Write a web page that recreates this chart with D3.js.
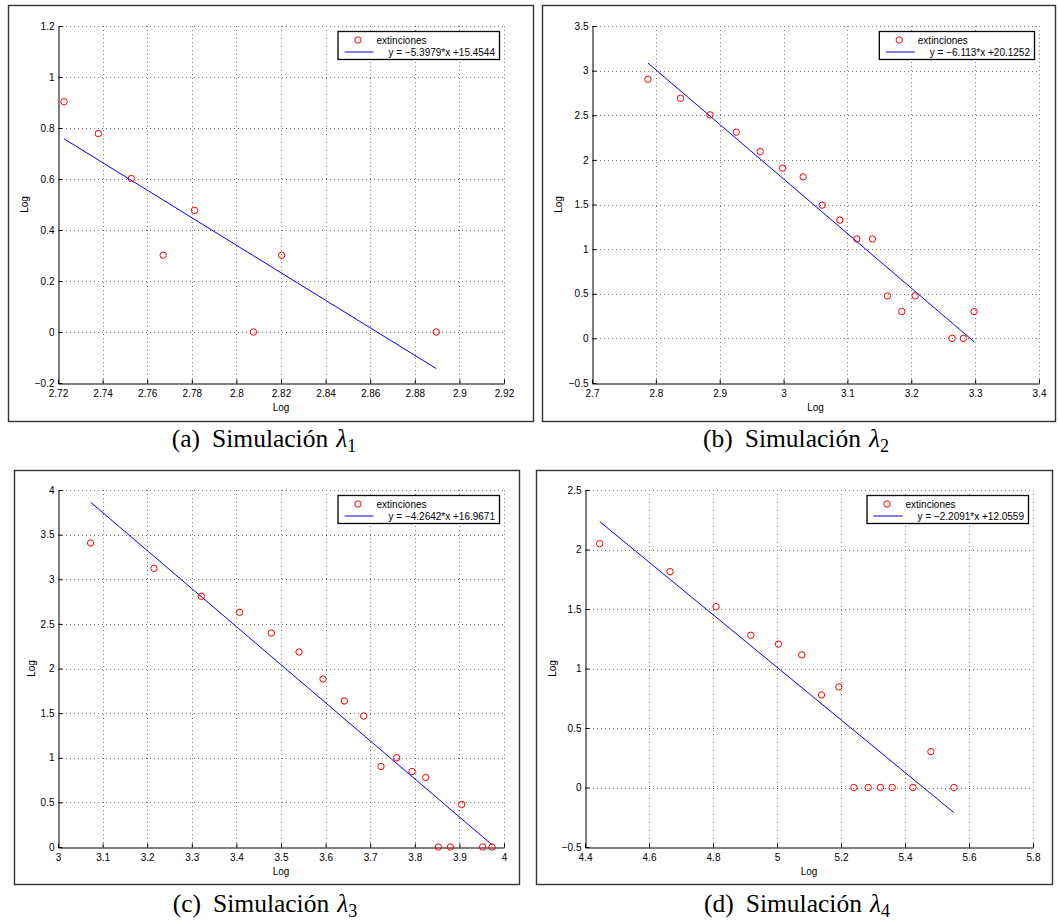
<!DOCTYPE html>
<html>
<head>
<meta charset="utf-8">
<script src="https://cdn.jsdelivr.net/npm/d3@7/dist/d3.min.js"></script>
<style>
  html, body { margin: 0; padding: 0; background: #fff; }
  svg { display: block; }
  .tick-label, .axis-label, .legend-text { font-family: "Liberation Sans", Arial, Helvetica, sans-serif; font-size: 10px; fill: #000; }
  .caption { font-family: "Liberation Serif", "Times New Roman", Times, serif; font-size: 25.5px; fill: #000; }
</style>
</head>
<body>
<svg id="chart" width="1058" height="921"></svg>
<script>
// ---------- DATA ----------
const seriesName = "extinciones";
const axisLabelX = "Log";
const axisLabelY = "Log";

// (a) Simulación λ1
const xA = [2.7227, 2.7381, 2.7529, 2.7672, 2.7812, 2.8076, 2.8203, 2.8896];
const yA = [0.903, 0.778, 0.602, 0.301, 0.477, 0, 0.301, 0];
const fitA = [-5.3979, 15.4544];
const fitLabelA = "y = \u22125.3979*x +15.4544";
const xTicksA = [2.72, 2.74, 2.76, 2.78, 2.8, 2.82, 2.84, 2.86, 2.88, 2.9, 2.92];
const xTickLabelsA = ["2.72", "2.74", "2.76", "2.78", "2.8", "2.82", "2.84", "2.86", "2.88", "2.9", "2.92"];
const yTicksA = [-0.2, 0, 0.2, 0.4, 0.6, 0.8, 1, 1.2];
const yTickLabelsA = ["\u22120.2", "0", "0.2", "0.4", "0.6", "0.8", "1", "1.2"];

// (b) Simulación λ2
const xB = [2.7876, 2.8388, 2.8847, 2.9259, 2.9634, 2.9984, 3.0307, 3.0605, 3.0881, 3.1147, 3.1392, 3.1627, 3.1851, 3.2060, 3.2639, 3.2816, 3.2983];
const yB = [2.903, 2.690, 2.504, 2.310, 2.093, 1.907, 1.810, 1.493, 1.325, 1.114, 1.114, 0.477, 0.301, 0.477, 0, 0, 0.301];
const fitB = [-6.113, 20.1252];
const fitLabelB = "y = \u22126.113*x +20.1252";
const xTicksB = [2.7, 2.8, 2.9, 3, 3.1, 3.2, 3.3, 3.4];
const xTickLabelsB = ["2.7", "2.8", "2.9", "3", "3.1", "3.2", "3.3", "3.4"];
const yTicksB = [-0.5, 0, 0.5, 1, 1.5, 2, 2.5, 3, 3.5];
const yTickLabelsB = ["\u22120.5", "0", "0.5", "1", "1.5", "2", "2.5", "3", "3.5"];

// (c) Simulación λ3
const xC = [3.0732, 3.2152, 3.3214, 3.4073, 3.4783, 3.5404, 3.5942, 3.6420, 3.6854, 3.7242, 3.7593, 3.7937, 3.8244, 3.8528, 3.8797, 3.9051, 3.9522, 3.9731];
const yC = [3.406, 3.122, 2.809, 2.629, 2.398, 2.185, 1.882, 1.636, 1.468, 0.903, 1.0, 0.845, 0.778, 0, 0, 0.477, 0, 0];
const fitC = [-4.2642, 16.9671];
const fitLabelC = "y = \u22124.2642*x +16.9671";
const xTicksC = [3, 3.1, 3.2, 3.3, 3.4, 3.5, 3.6, 3.7, 3.8, 3.9, 4];
const xTickLabelsC = ["3", "3.1", "3.2", "3.3", "3.4", "3.5", "3.6", "3.7", "3.8", "3.9", "4"];
const yTicksC = [0, 0.5, 1, 1.5, 2, 2.5, 3, 3.5, 4];
const yTickLabelsC = ["0", "0.5", "1", "1.5", "2", "2.5", "3", "3.5", "4"];

// (d) Simulación λ4
const xD = [4.4459, 4.6658, 4.8097, 4.9181, 5.0046, 5.0776, 5.1391, 5.1933, 5.2402, 5.2851, 5.3236, 5.3601, 5.4247, 5.4810, 5.5529];
const yD = [2.049, 1.814, 1.519, 1.279, 1.204, 1.114, 0.778, 0.845, 0, 0, 0, 0, 0, 0.301, 0];
const fitD = [-2.2091, 12.0559];
const fitLabelD = "y = \u22122.2091*x +12.0559";
const xTicksD = [4.4, 4.6, 4.8, 5, 5.2, 5.4, 5.6, 5.8];
const xTickLabelsD = ["4.4", "4.6", "4.8", "5", "5.2", "5.4", "5.6", "5.8"];
const yTicksD = [-0.5, 0, 0.5, 1, 1.5, 2, 2.5];
const yTickLabelsD = ["\u22120.5", "0", "0.5", "1", "1.5", "2", "2.5"];

const captionLetters = ["(a)", "(b)", "(c)", "(d)"];
const captionWord = "Simulación";
const captionSubs = ["1", "2", "3", "4"];

// ---------- LAYOUT ----------
const svg = d3.select("#chart");

const panels = [
  { x: xA, y: yA, fit: fitA, fitLabel: fitLabelA, xt: xTicksA, xtl: xTickLabelsA, yt: yTicksA, ytl: yTickLabelsA,
    frame: [8, 5, 533, 421], plot: [58, 26, 504, 383], ylabX: 25, cap: [264, 447] },
  { x: xB, y: yB, fit: fitB, fitLabel: fitLabelB, xt: xTicksB, xtl: xTickLabelsB, yt: yTicksB, ytl: yTickLabelsB,
    frame: [542, 5, 1055, 421], plot: [592, 26, 1039, 383], ylabX: 559, cap: [796, 447] },
  { x: xC, y: yC, fit: fitC, fitLabel: fitLabelC, xt: xTicksC, xtl: xTickLabelsC, yt: yTicksC, ytl: yTickLabelsC,
    frame: [14, 470, 519, 884], plot: [58, 490, 504, 847], ylabX: 32, cap: [265, 912] },
  { x: xD, y: yD, fit: fitD, fitLabel: fitLabelD, xt: xTicksD, xtl: xTickLabelsD, yt: yTicksD, ytl: yTickLabelsD,
    frame: [536, 470, 1052, 884], plot: [585, 490, 1033, 847], ylabX: 553, cap: [797, 912] }
];

panels.forEach((p, i) => {
  const [fx0, fy0, fx1, fy1] = p.frame;
  const [px0, py0, px1, py1] = p.plot;
  const g = svg.append("g");

  // outer frame
  g.append("rect").attr("x", fx0 + 0.5).attr("y", fy0 + 0.5)
    .attr("width", fx1 - fx0).attr("height", fy1 - fy0)
    .attr("fill", "#fff").attr("stroke", "#333").attr("stroke-width", 1.4);

  const xs = d3.scaleLinear().domain(d3.extent(p.xt)).range([px0, px1]);
  const ys = d3.scaleLinear().domain(d3.extent(p.yt)).range([py1, py0]);

  // grid (dotted)
  const grid = g.append("g").attr("stroke", "#777").attr("stroke-width", 1).attr("stroke-dasharray", "1,3");
  grid.selectAll("line.vx").data(p.xt.slice(1)).enter().append("line")
    .attr("x1", d => Math.round(xs(d)) + 0.5).attr("x2", d => Math.round(xs(d)) + 0.5)
    .attr("y1", py1).attr("y2", py0);
  grid.selectAll("line.hy").data(p.yt.slice(1)).enter().append("line")
    .attr("y1", d => Math.round(ys(d)) + 0.5).attr("y2", d => Math.round(ys(d)) + 0.5)
    .attr("x1", px0).attr("x2", px1);

  // axes (box off: left & bottom), inward ticks
  const axX = d3.axisBottom(xs).tickValues(p.xt).tickSizeInner(-4).tickSizeOuter(0).tickFormat((d, k) => p.xtl[k]);
  const axY = d3.axisLeft(ys).tickValues(p.yt).tickSizeInner(-4).tickSizeOuter(0).tickFormat((d, k) => p.ytl[k]);
  const gx = g.append("g").attr("transform", `translate(0,${py1 + 0.5})`).call(axX);
  const gy = g.append("g").attr("transform", `translate(${px0 + 0.5},0)`).call(axY);
  [gx, gy].forEach(a => {
    a.select(".domain").attr("stroke", "#000").attr("stroke-width", 1);
    a.selectAll(".tick line").attr("stroke", "#000");
    a.selectAll(".tick text").attr("class", "tick-label").attr("font-family", null).attr("font-size", null);
    a.attr("font-family", null).attr("font-size", null);
  });
  gx.selectAll(".tick text").attr("y", 6).attr("dy", "0.71em");
  gy.selectAll(".tick text").attr("x", -4).attr("dy", "0.32em");

  // axis labels
  g.append("text").attr("class", "axis-label").attr("x", (px0 + px1) / 2).attr("y", py1 + 25)
    .attr("text-anchor", "middle").attr("dominant-baseline", "middle").text(axisLabelX);
  g.append("text").attr("class", "axis-label")
    .attr("transform", `translate(${p.ylabX},${(py0 + py1) / 2}) rotate(-90)`)
    .attr("text-anchor", "middle").attr("dominant-baseline", "middle").text(axisLabelY);

  // fit line
  const xMin = d3.min(p.x), xMax = d3.max(p.x);
  const fitPts = [xMin, xMax].map(v => [v, p.fit[0] * v + p.fit[1]]);
  g.append("path").datum(fitPts)
    .attr("d", d3.line().x(d => xs(d[0])).y(d => ys(d[1])))
    .attr("fill", "none").attr("stroke", "#0000ff").attr("stroke-width", 1);

  // points
  g.selectAll("circle.pt").data(p.x.map((v, k) => [v, p.y[k]])).enter().append("circle")
    .attr("cx", d => xs(d[0])).attr("cy", d => ys(d[1])).attr("r", 3.2)
    .attr("fill", "none").attr("stroke", "#ff0000").attr("stroke-width", 1);

  // legend
  const lg = g.append("g");
  const box = lg.append("rect");
  const t2 = lg.append("text").attr("class", "legend-text").attr("text-anchor", "end").text(p.fitLabel);
  const tw = t2.node().getComputedTextLength();
  const lw = 50 + tw + 5, lh = 28;
  const lx = px1 - 5 - lw, ly = py0 + 5;
  box.attr("x", lx + 0.5).attr("y", ly + 0.5).attr("width", lw).attr("height", lh)
    .attr("fill", "#fff").attr("stroke", "#000").attr("stroke-width", 1.3);
  t2.attr("x", lx + lw - 4).attr("y", ly + 21).attr("dy", "0.35em");
  lg.append("circle").attr("cx", lx + 20.5).attr("cy", ly + 9).attr("r", 3.2)
    .attr("fill", "none").attr("stroke", "#ff0000").attr("stroke-width", 1);
  lg.append("text").attr("class", "legend-text").attr("x", lx + 39).attr("y", ly + 9.5).attr("dy", "0.35em").text(seriesName);
  lg.append("line").attr("x1", lx + 7).attr("x2", lx + 36).attr("y1", ly + 21).attr("y2", ly + 21)
    .attr("stroke", "#0000ff").attr("stroke-width", 1);

  // caption
  const cap = svg.append("text").attr("class", "caption").attr("y", p.cap[1]);
  cap.append("tspan").text(captionLetters[i]);
  cap.append("tspan").attr("dx", 12).text(captionWord);
  cap.append("tspan").attr("dx", 8).attr("font-style", "italic").text("λ");
  cap.append("tspan").attr("dy", 5).attr("font-size", "18px").text(captionSubs[i]);
  const cw = cap.node().getComputedTextLength() + 20;
  cap.attr("x", p.cap[0] - cw / 2);
});
</script>
</body>
</html>
